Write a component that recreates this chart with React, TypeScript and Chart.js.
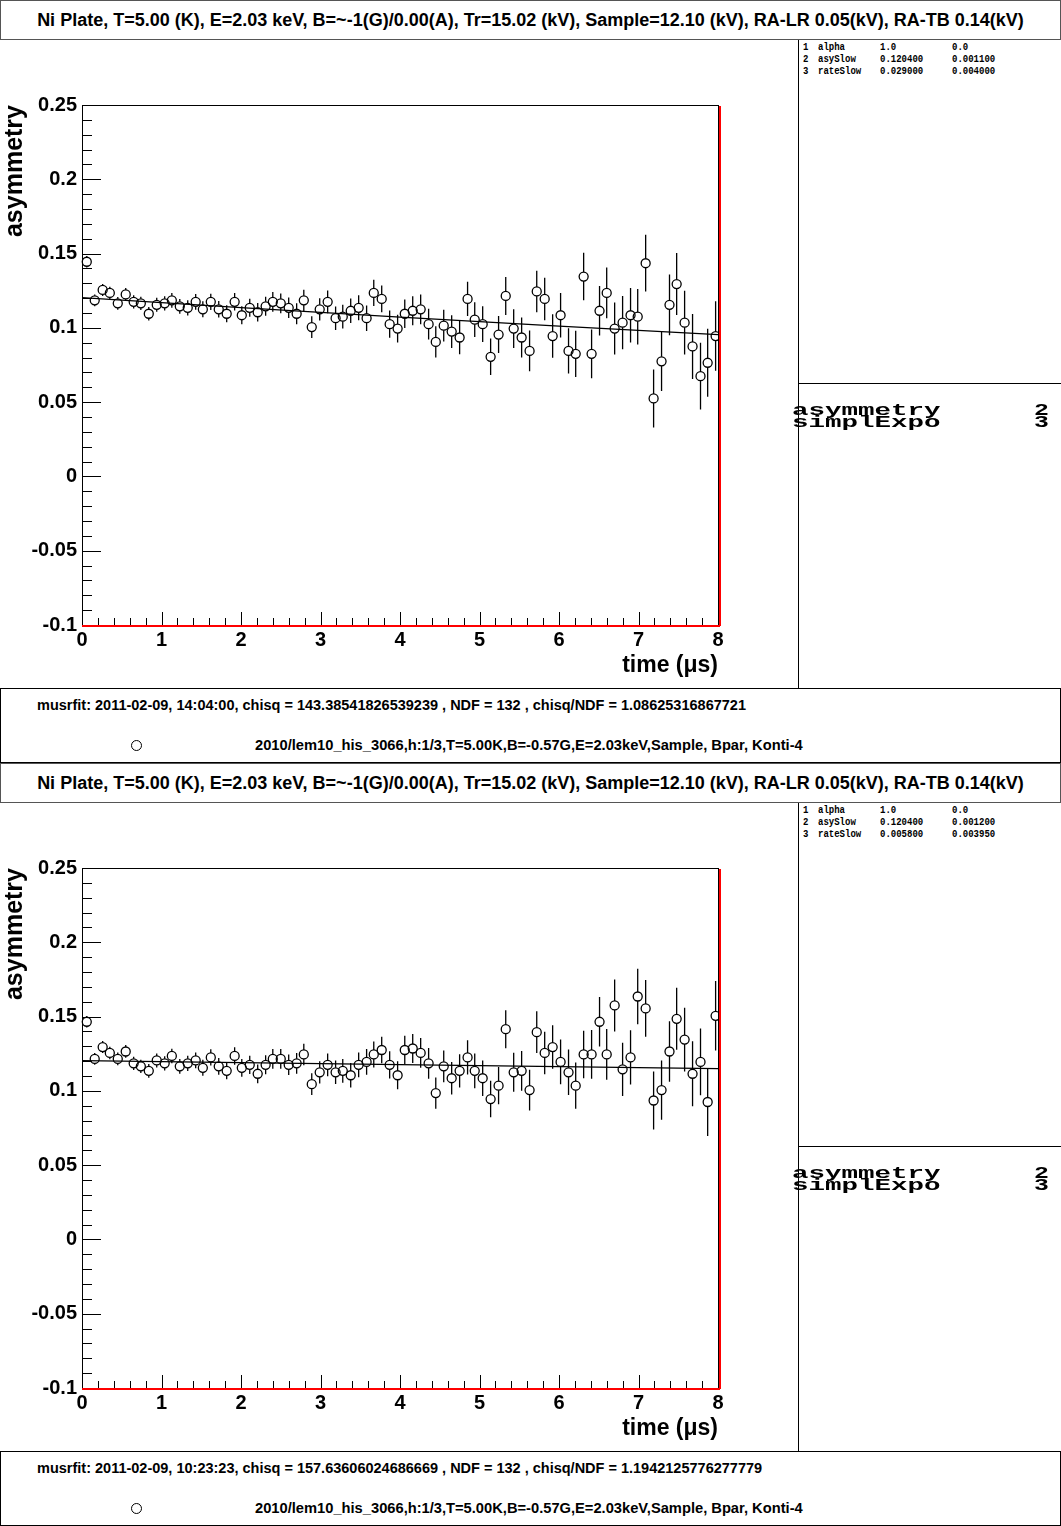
import React, { useEffect, useRef } from "react";
import { Chart, registerables } from "chart.js";

Chart.register(...registerables);

// ---------------- data ----------------
const times = [0.06, 0.16, 0.26, 0.35, 0.45, 0.55, 0.65, 0.74, 0.84, 0.94, 1.04, 1.13, 1.23, 1.33, 1.43, 1.52, 1.62, 1.72, 1.82, 1.92, 2.01, 2.11, 2.21, 2.31, 2.40, 2.50, 2.60, 2.70, 2.79, 2.89, 2.99, 3.09, 3.19, 3.28, 3.38, 3.48, 3.58, 3.67, 3.77, 3.87, 3.97, 4.06, 4.16, 4.26, 4.36, 4.45, 4.55, 4.65, 4.75, 4.85, 4.94, 5.04, 5.14, 5.24, 5.33, 5.43, 5.53, 5.63, 5.72, 5.82, 5.92, 6.02, 6.12, 6.21, 6.31, 6.41, 6.51, 6.60, 6.70, 6.80, 6.90, 6.99, 7.09, 7.19, 7.29, 7.39, 7.48, 7.58, 7.68, 7.78, 7.87, 7.97];

const asymmetry1 = [0.1445, 0.1185, 0.1255, 0.1235, 0.1165, 0.1225, 0.1175, 0.1165, 0.1095, 0.1155,
  0.1165, 0.1185, 0.1145, 0.1135, 0.1175, 0.1125, 0.1175, 0.1125, 0.1095, 0.1175,
  0.1085, 0.1135, 0.1105, 0.1145, 0.1175, 0.1165, 0.1135, 0.1095, 0.1185, 0.1005,
  0.1125, 0.1175, 0.1065, 0.1075, 0.1115, 0.1135, 0.1065, 0.1235, 0.1195, 0.1025,
  0.0995, 0.1095, 0.1115, 0.1125, 0.1025, 0.0905, 0.1015, 0.0975, 0.0935, 0.1195,
  0.1055, 0.1025, 0.0805, 0.0955, 0.1215, 0.0995, 0.0935, 0.0845, 0.1245, 0.1195,
  0.0945, 0.1085, 0.0845, 0.0825, 0.1345, 0.0825, 0.1115, 0.1235, 0.0995, 0.1035,
  0.1085, 0.1075, 0.1435, 0.0525, 0.0775, 0.1155, 0.1295, 0.1035, 0.0875, 0.0675,
  0.0765, 0.0945];

const asymmetry2 = [0.1465, 0.1215, 0.1295, 0.1255, 0.1215, 0.1265, 0.1185, 0.1165, 0.1135, 0.1205,
  0.1185, 0.1235, 0.1165, 0.1185, 0.1205, 0.1155, 0.1225, 0.1165, 0.1135, 0.1235,
  0.1155, 0.1175, 0.1115, 0.1175, 0.1215, 0.1215, 0.1175, 0.1185, 0.1245, 0.1045,
  0.1125, 0.1175, 0.1125, 0.1135, 0.1105, 0.1175, 0.1195, 0.1245, 0.1275, 0.1175,
  0.1105, 0.1275, 0.1285, 0.1255, 0.1185, 0.0985, 0.1165, 0.1085, 0.1135, 0.1225,
  0.1135, 0.1085, 0.0945, 0.1035, 0.1415, 0.1125, 0.1135, 0.1005, 0.1395, 0.1255,
  0.1295, 0.1195, 0.1125, 0.1035, 0.1245, 0.1245, 0.1465, 0.1245, 0.1575, 0.1145,
  0.1225, 0.1635, 0.1555, 0.0935, 0.1005, 0.1265, 0.1485, 0.1345, 0.1115, 0.1195,
  0.0925, 0.1505];

const asymmetryErr = [0.0039, 0.0040, 0.0041, 0.0042, 0.0043, 0.0043, 0.0044, 0.0045, 0.0046, 0.0047,
  0.0048, 0.0049, 0.0050, 0.0051, 0.0053, 0.0054, 0.0055, 0.0056, 0.0057, 0.0059,
  0.0060, 0.0061, 0.0063, 0.0064, 0.0066, 0.0067, 0.0069, 0.0070, 0.0072, 0.0073,
  0.0075, 0.0077, 0.0079, 0.0080, 0.0082, 0.0084, 0.0086, 0.0088, 0.0090, 0.0092,
  0.0094, 0.0096, 0.0098, 0.0100, 0.0103, 0.0105, 0.0107, 0.0110, 0.0112, 0.0115,
  0.0117, 0.0120, 0.0123, 0.0125, 0.0128, 0.0131, 0.0134, 0.0137, 0.0140, 0.0143,
  0.0146, 0.0150, 0.0153, 0.0156, 0.0160, 0.0164, 0.0167, 0.0171, 0.0175, 0.0179,
  0.0183, 0.0187, 0.0191, 0.0195, 0.0200, 0.0204, 0.0209, 0.0214, 0.0219, 0.0224,
  0.0229, 0.0234];

const fitTimes = [0, 1, 2, 3, 4, 5, 6, 7, 8];
const fit1 = [0.1204, 0.11696, 0.11362, 0.11037, 0.10722, 0.10415, 0.10118, 0.09829, 0.09548];
const fit2 = [0.1204, 0.11970, 0.11901, 0.11832, 0.11764, 0.11696, 0.11628, 0.11561, 0.11494];

const xTickValues = [0, 1, 2, 3, 4, 5, 6, 7, 8];
const xTickLabels = ["0", "1", "2", "3", "4", "5", "6", "7", "8"];
const yTickValues = [-0.1, -0.05, 0, 0.05, 0.1, 0.15, 0.2, 0.25];
const yTickLabels = ["-0.1", "-0.05", "0", "0.05", "0.1", "0.15", "0.2", "0.25"];

const titleText = "Ni Plate, T=5.00 (K), E=2.03 keV, B=~-1(G)/0.00(A), Tr=15.02 (kV), Sample=12.10 (kV), RA-LR 0.05(kV), RA-TB 0.14(kV)";
const params1 = [["1", "alpha", "1.0", "0.0"], ["2", "asySlow", "0.120400", "0.001100"], ["3", "rateSlow", "0.029000", "0.004000"]];
const params2 = [["1", "alpha", "1.0", "0.0"], ["2", "asySlow", "0.120400", "0.001200"], ["3", "rateSlow", "0.005800", "0.003950"]];
const theoryLines = [["asymmetry", "2"], ["simplExpo", "3"]];
const musrText1 = "musrfit: 2011-02-09, 14:04:00, chisq = 143.38541826539239 , NDF = 132 , chisq/NDF = 1.08625316867721";
const musrText2 = "musrfit: 2011-02-09, 10:23:23, chisq = 157.63606024686669 , NDF = 132 , chisq/NDF = 1.1942125776277779";
const legendText = "2010/lem10_his_3066,h:1/3,T=5.00K,B=-0.57G,E=2.03keV,Sample, Bpar, Konti-4";

const SANS = "'Liberation Sans', Arial, Helvetica, sans-serif";
const MONO = "'Liberation Mono', 'Courier New', monospace";

function labelFor(values: number[], labels: string[], v: number) {
  const i = values.findIndex((t) => Math.abs(t - v) < 1e-6);
  return i >= 0 ? labels[i] : "";
}

function PlotCanvas({ asy, fit }: { asy: number[]; fit: number[] }) {
  const ref = useRef<HTMLCanvasElement | null>(null);
  useEffect(() => {
    const canvas = ref.current;
    if (!canvas) return;
    const pointR = 4.5;
    const decor = {
      id: "rootDecor",
      beforeDatasetsDraw(chart: any) {
        const { ctx } = chart;
        const xs = chart.scales.x;
        const ys = chart.scales.y;
        ctx.save();
        ctx.strokeStyle = "#000";
        ctx.lineWidth = 1.3;
        for (let i = 0; i < times.length; i++) {
          const px = xs.getPixelForValue(times[i]);
          const py = ys.getPixelForValue(asy[i]);
          const pt = ys.getPixelForValue(asy[i] + asymmetryErr[i]);
          const pb = ys.getPixelForValue(asy[i] - asymmetryErr[i]);
          ctx.beginPath();
          if (pt < py - pointR) {
            ctx.moveTo(px, pt);
            ctx.lineTo(px, py - pointR);
          }
          if (pb > py + pointR) {
            ctx.moveTo(px, py + pointR);
            ctx.lineTo(px, pb);
          }
          ctx.stroke();
        }
        ctx.restore();
      },
      afterDraw(chart: any) {
        const { ctx, chartArea } = chart;
        const { left, right, top, bottom } = chartArea;
        const xs = chart.scales.x;
        const ys = chart.scales.y;
        ctx.save();
        ctx.strokeStyle = "#000";
        ctx.lineWidth = 1;
        ctx.strokeRect(left + 0.5, top + 0.5, right - left, bottom - top);
        ctx.beginPath();
        for (let k = -10; k <= 25; k++) {
          const py = Math.round(ys.getPixelForValue(k / 100)) + 0.5;
          const len = k % 5 === 0 ? 19 : 10;
          ctx.moveTo(left, py);
          ctx.lineTo(left + len, py);
        }
        for (let k = 0; k <= 40; k++) {
          const px = Math.round(xs.getPixelForValue(k * 0.2)) + 0.5;
          const len = k % 5 === 0 ? 13 : 7;
          ctx.moveTo(px, bottom);
          ctx.lineTo(px, bottom - len);
        }
        ctx.stroke();
        ctx.strokeStyle = "#ff0000";
        ctx.lineWidth = 2;
        ctx.beginPath();
        ctx.moveTo(left, bottom + 1);
        ctx.lineTo(right + 2, bottom + 1);
        ctx.moveTo(right + 2, top + 1);
        ctx.lineTo(right + 2, bottom + 1);
        ctx.stroke();
        ctx.restore();
      },
    };

    const chart = new Chart(canvas, {
      type: "scatter",
      data: {
        datasets: [
          {
            label: "fit",
            data: fitTimes.map((t, i) => ({ x: t, y: fit[i] })),
            showLine: true,
            borderColor: "#000",
            borderWidth: 1.2,
            pointRadius: 0,
            clip: false as any,
          } as any,
          {
            label: "data",
            data: times.map((t, i) => ({ x: t, y: asy[i] })),
            showLine: false,
            pointStyle: "circle",
            pointRadius: pointR,
            pointBorderWidth: 1.3,
            pointBackgroundColor: "rgba(0,0,0,0)",
            pointBorderColor: "#000",
            clip: false as any,
          } as any,
        ],
      },
      options: {
        responsive: false,
        animation: false,
        devicePixelRatio: 1,
        layout: { padding: { top: 65, right: 80, left: 0, bottom: 0 } },
        plugins: { legend: { display: false }, tooltip: { enabled: false }, title: { display: false } },
        scales: {
          x: {
            type: "linear",
            min: 0,
            max: 8,
            afterFit: (s: any) => {
              s.height = 63;
            },
            grid: { display: false, drawTicks: false },
            border: { display: false },
            ticks: {
              stepSize: 1,
              autoSkip: false,
              maxRotation: 0,
              padding: 3,
              color: "#000",
              font: { family: SANS, size: 20, weight: "bold" },
              callback: (v: any) => labelFor(xTickValues, xTickLabels, Number(v)),
            },
            title: {
              display: true,
              text: "time (\u03bcs)",
              align: "end",
              color: "#000",
              font: { family: SANS, size: 23, weight: "bold" },
              padding: { top: 0, bottom: 9 },
            },
          },
          y: {
            type: "linear",
            min: -0.1,
            max: 0.25,
            afterFit: (s: any) => {
              s.width = 82;
            },
            grid: { display: false, drawTicks: false },
            border: { display: false },
            ticks: {
              stepSize: 0.05,
              autoSkip: false,
              padding: 5,
              color: "#000",
              font: { family: SANS, size: 20, weight: "bold" },
              callback: (v: any) => labelFor(yTickValues, yTickLabels, Number(v)),
            },
            title: {
              display: true,
              text: "asymmetry",
              align: "end",
              color: "#000",
              font: { family: SANS, size: 25, weight: "bold" },
              padding: { top: 0, bottom: 0 },
            },
          },
        },
      } as any,
      plugins: [decor as any],
    });
    return () => chart.destroy();
  }, [asy, fit]);
  return <canvas ref={ref} width={798} height={648} style={{ position: "absolute", left: 0, top: 40, width: 798, height: 648 }} />;
}

function Panel({ top, asy, fit, params, musr }: { top: number; asy: number[]; fit: number[]; params: string[][]; musr: string }) {
  const paramCols = [803, 818, 880, 952];
  return (
    <div style={{ position: "absolute", left: 0, top, width: 1061, height: 763 }}>
      <div
        style={{
          position: "absolute",
          left: 0,
          top: 0,
          width: 1059,
          height: 38,
          border: "1px solid #555",
          fontFamily: SANS,
          fontWeight: "bold",
          fontSize: 18,
          lineHeight: "38px",
          textAlign: "center",
          whiteSpace: "nowrap",
          color: "#000",
        }}
      >
        {titleText}
      </div>
      <PlotCanvas asy={asy} fit={fit} />
      <div style={{ position: "absolute", left: 798, top: 40, width: 263, height: 648, borderLeft: "1px solid #000" }} />
      <div style={{ position: "absolute", left: 798, top: 383, width: 263, height: 0, borderTop: "1px solid #000" }} />
      {params.map((row, r) =>
        row.map((cell, c) => (
          <div
            key={r + "-" + c}
            style={{
              position: "absolute",
              left: paramCols[c],
              top: 42 + r * 12,
              fontFamily: MONO,
              fontWeight: "bold",
              fontSize: 10,
              lineHeight: "12px",
              whiteSpace: "pre",
              transform: "scaleX(0.9)",
              transformOrigin: "left top",
              color: "#000",
            }}
          >
            {cell}
          </div>
        ))
      )}
      {theoryLines.map((row, r) => (
        <React.Fragment key={"th" + r}>
          <div
            style={{
              position: "absolute",
              left: 792,
              top: 403 + r * 12,
              fontFamily: MONO,
              fontWeight: "bold",
              fontSize: 16,
              lineHeight: "16px",
              whiteSpace: "pre",
              transform: "scaleX(1.72)",
              transformOrigin: "left top",
              color: "#000",
            }}
          >
            {row[0]}
          </div>
          <div
            style={{
              position: "absolute",
              left: 1034,
              top: 403 + r * 12,
              fontFamily: MONO,
              fontWeight: "bold",
              fontSize: 16,
              lineHeight: "16px",
              whiteSpace: "pre",
              transform: "scaleX(1.55)",
              transformOrigin: "left top",
              color: "#000",
            }}
          >
            {row[1]}
          </div>
        </React.Fragment>
      ))}
      <div
        style={{
          position: "absolute",
          left: 0,
          top: 688,
          width: 1059,
          height: 73,
          border: "1px solid #000",
          borderBottomWidth: 2,
        }}
      />
      <div
        style={{
          position: "absolute",
          left: 37,
          top: 697,
          fontFamily: SANS,
          fontWeight: "bold",
          fontSize: 14.5,
          lineHeight: "17px",
          whiteSpace: "nowrap",
          color: "#000",
        }}
      >
        {musr}
      </div>
      <div
        style={{
          position: "absolute",
          left: 131,
          top: 740,
          width: 11,
          height: 11,
          borderRadius: "50%",
          border: "1px solid #000",
          boxSizing: "border-box",
        }}
      />
      <div
        style={{
          position: "absolute",
          left: 255,
          top: 737,
          fontFamily: SANS,
          fontWeight: "bold",
          fontSize: 14.7,
          lineHeight: "17px",
          whiteSpace: "nowrap",
          color: "#000",
        }}
      >
        {legendText}
      </div>
    </div>
  );
}

export default function App() {
  return (
    <div style={{ position: "absolute", left: 0, top: 0, width: 1061, height: 1526, background: "#fff", overflow: "hidden" }}>
      <Panel top={0} asy={asymmetry1} fit={fit1} params={params1} musr={musrText1} />
      <Panel top={763} asy={asymmetry2} fit={fit2} params={params2} musr={musrText2} />
    </div>
  );
}
